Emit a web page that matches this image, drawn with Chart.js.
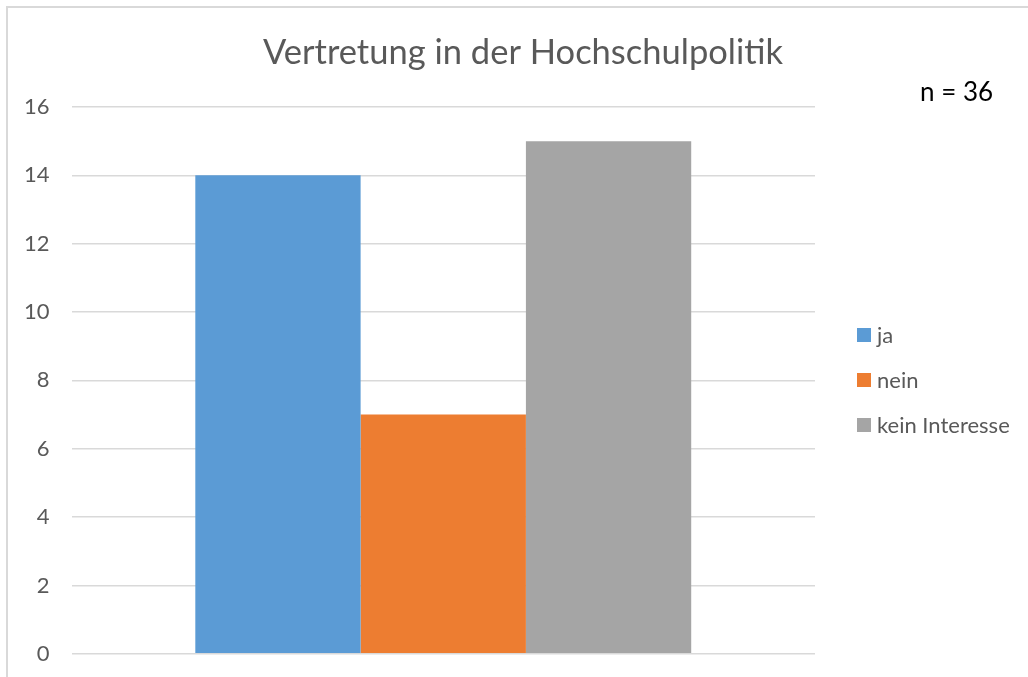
<!DOCTYPE html>
<html>
<head>
<meta charset="utf-8">
<script src="https://cdn.jsdelivr.net/npm/chart.js@4.4.1/dist/chart.umd.min.js"></script>
<style>
  html, body { margin: 0; padding: 0; background: #fff; overflow: hidden; }
  #frame {
    position: absolute; left: 6px; top: 6px; width: 1100px; height: 760px;
    border: 2px solid #d9d9d9; box-sizing: border-box;
  }
  /* canvas runs a little past the bottom edge, as the Excel frame does */
  #wrap { position: absolute; left: 0; top: 0; width: 1028px; height: 689px; }
</style>
</head>
<body>
<div id="frame"></div>
<div id="wrap"><canvas id="chart"></canvas></div>
<script>
const categories = [""];
const seriesNames = ["ja", "nein", "kein Interesse"];
const seriesValues = [[14], [7], [15]];
const seriesColors = ["#5b9bd5", "#ed7d31", "#a5a5a5"];
const yTicks = [0, 2, 4, 6, 8, 10, 12, 14, 16];
const title = "Vertretung in der Hochschulpolitik";
const note = "n = 36";

const FONT = "Lato, 'Open Sans', sans-serif";
const GREY = "#595959";

// title, legend and sample size note, placed like the Excel layout
const sideText = {
  id: "sideText",
  afterDraw(chart) {
    const ctx = chart.ctx;
    ctx.save();
    ctx.textBaseline = "middle";

    ctx.font = "34.5px " + FONT;
    ctx.fillStyle = GREY;
    ctx.textAlign = "center";
    ctx.fillText(title, 523, 53);

    ctx.textAlign = "left";
    ctx.font = "22px " + FONT;
    chart.data.datasets.forEach((ds, i) => {
      const y = 335 + i * 45;
      ctx.fillStyle = ds.backgroundColor;
      ctx.fillRect(857, y - 7, 14, 14);
      ctx.fillStyle = GREY;
      ctx.fillText(ds.label, 877, y + 1);
    });

    ctx.font = "26px " + FONT;
    ctx.fillStyle = "#000";
    ctx.fillText(note, 920, 93);
    ctx.restore();
  }
};

new Chart(document.getElementById("chart"), {
  type: "bar",
  data: {
    labels: categories,
    datasets: seriesNames.map((name, i) => ({
      label: name,
      data: seriesValues[i],
      backgroundColor: seriesColors[i],
      borderWidth: 0,
      categoryPercentage: 0.667,
      barPercentage: 1
    }))
  },
  options: {
    responsive: true,
    maintainAspectRatio: false,
    animation: false,
    layout: { padding: { left: 2, right: 213, top: 107, bottom: 0 } },
    plugins: {
      legend: { display: false },
      tooltip: { enabled: false },
      title: { display: false }
    },
    scales: {
      x: { display: false },
      y: {
        min: 0,
        max: 16,
        afterBuildTicks: axis => { axis.ticks = yTicks.map(v => ({ value: v })); },
        border: { display: false },
        grid: { color: "#d9d9d9", lineWidth: 1.5, drawTicks: false },
        ticks: { color: GREY, padding: 22, font: { family: FONT, size: 22 } }
      }
    }
  },
  plugins: [sideText]
});
</script>
</body>
</html>
